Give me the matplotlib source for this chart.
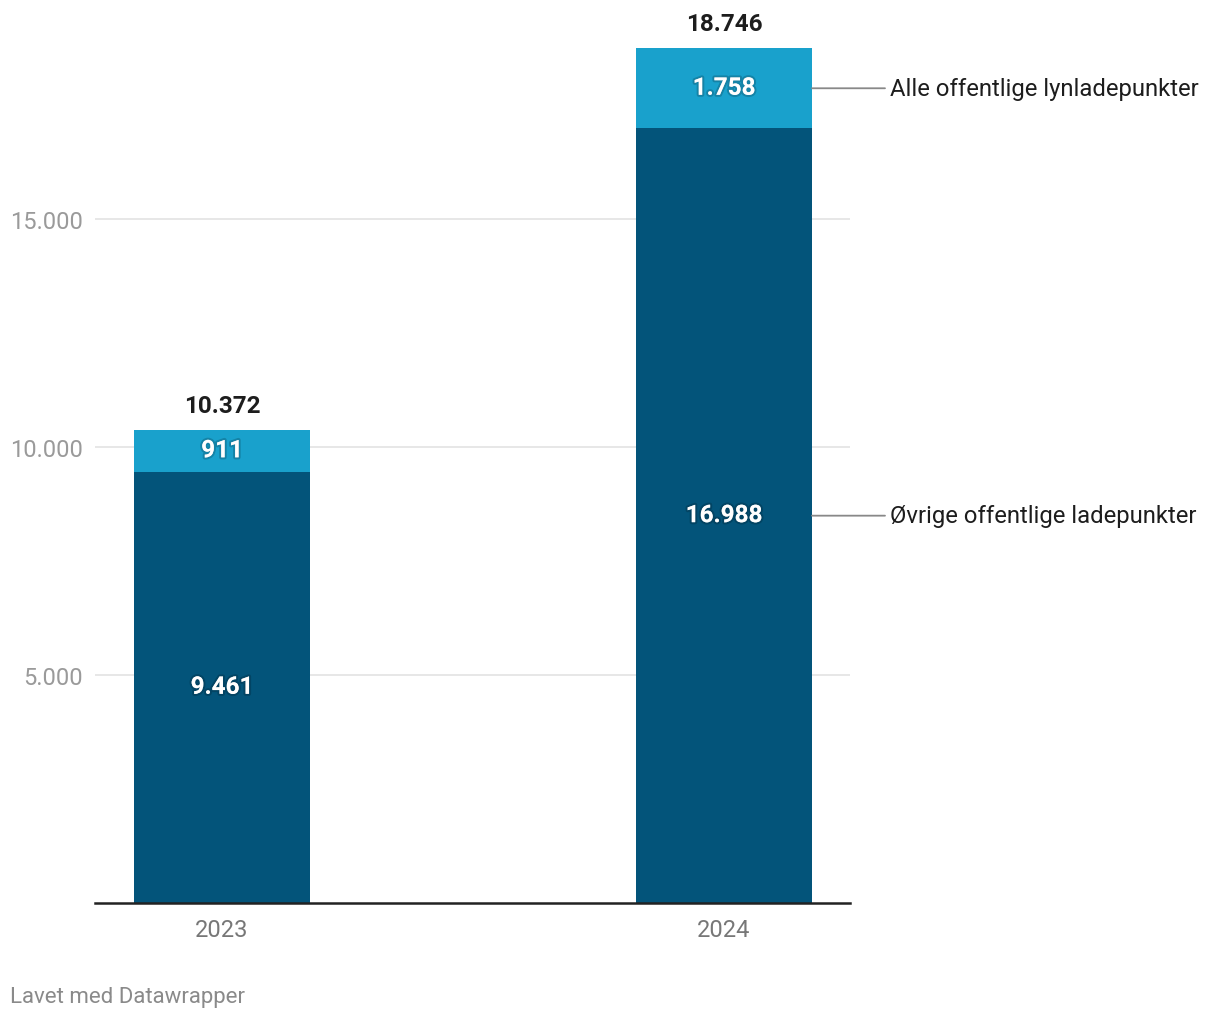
import matplotlib
matplotlib.use("Agg")
import matplotlib.pyplot as plt
import matplotlib.patheffects as pe

plt.rcParams['font.family'] = ['Roboto', 'DejaVu Sans']

years = ["2023", "2024"]
ovrige = [9461, 16988]
lyn = [911, 1758]
totals = [10372, 18746]
series_names = ["Øvrige offentlige ladepunkter", "Alle offentlige lynladepunkter"]
yticks = [5000, 10000, 15000]
ytick_labels = ["5.000", "10.000", "15.000"]

def fmt(v):
    return f"{v:,}".replace(",", ".")

W, H = 1220, 1020
fig = plt.figure(figsize=(W / 100, H / 100), dpi=100)
ymax = 19500
px_per = 228 / 5000
base = 904
top_px = base - ymax * px_per
ax = fig.add_axes([95 / W, 1 - base / H, (850 - 95) / W, (base - top_px) / H])

dark = "#03547a"
light = "#19a1cc"
x = list(range(len(years)))
width = 176 / 502
ax.bar(x, ovrige, width=width, color=dark, zorder=3)
ax.bar(x, lyn, width=width, bottom=ovrige, color=light, zorder=3)

ax.set_xlim(-127 / 502, 1 + 126 / 502)
ax.set_ylim(0, ymax)

shadow = [pe.withStroke(linewidth=3, foreground=(0, 0, 0, 0.18))]
for i in x:
    ax.text(i, ovrige[i] / 2, fmt(ovrige[i]), ha="center", va="center",
            color="white", fontsize=17.5, fontweight="bold", zorder=5, path_effects=shadow)
    ax.text(i, ovrige[i] + lyn[i] / 2, fmt(lyn[i]), ha="center", va="center",
            color="white", fontsize=17.5, fontweight="bold", zorder=5, path_effects=shadow)
    ax.annotate(fmt(totals[i]), (i, totals[i]), xytext=(0, 17.5), textcoords="offset points",
                ha="center", va="center", color="#1d1d1d", fontsize=17.5, fontweight="bold",
                annotation_clip=False)

last = len(x) - 1
label_y = [ovrige[last] / 2, ovrige[last] + lyn[last] / 2]
for name, yv in zip(series_names, label_y):
    xr = last + width / 2
    ax.annotate("", xy=(xr, yv), xytext=(xr + 73 / 502, yv),
                arrowprops=dict(arrowstyle="-", color="#888888", lw=1.3,
                                shrinkA=0, shrinkB=0), annotation_clip=False)
    ax.text(xr + 78 / 502, yv, name, ha="left", va="center", fontsize=17.2,
            color="#1d1d1d", clip_on=False)

ax.set_yticks(yticks)
ax.set_yticklabels(ytick_labels)
ax.set_xticks(x)
ax.set_xticklabels(years)
ax.tick_params(axis="y", length=0, pad=9, labelsize=17, labelcolor="#9a9a9a")
ax.tick_params(axis="x", length=0, pad=11, labelsize=17, labelcolor="#777777")
ax.grid(axis="y", color="#e3e3e3", lw=1.2, zorder=0)
ax.set_axisbelow(True)
for s in ["top", "right", "left"]:
    ax.spines[s].set_visible(False)
ax.spines["bottom"].set_color("#222222")
ax.spines["bottom"].set_linewidth(1.8)
ax.spines["bottom"].set_zorder(4)

fig.text(10 / W, 1 - 998 / H, "Lavet med Datawrapper", ha="left", va="center",
         fontsize=16, color="#8a8a8a")

fig.savefig("out.png", dpi=100)
